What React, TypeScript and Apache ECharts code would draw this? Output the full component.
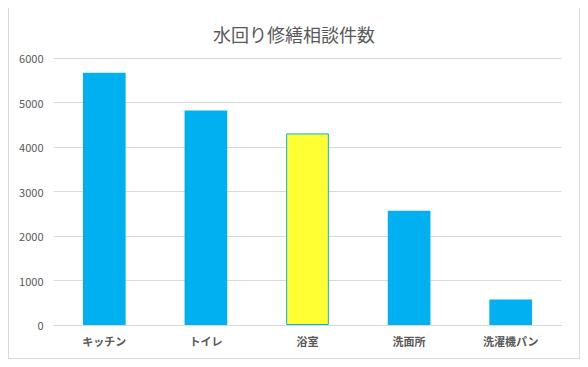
import React, { useEffect, useRef } from "react";
import * as echarts from "echarts";

const categories = ["キッチン", "トイレ", "浴室", "洗面所", "洗濯機パン"];
const values = [5670, 4820, 4305, 2565, 575];
const highlightIndex = 2;
const yMax = 6000;
const yInterval = 1000;

export default function App() {
  const ref = useRef<HTMLDivElement>(null);
  useEffect(() => {
    if (!ref.current) return;
    const chart = echarts.init(ref.current, undefined, { renderer: "svg" });
    const font = "'Noto Sans CJK JP', 'Noto Sans', sans-serif";
    chart.setOption({
      animation: false,
      title: {
        text: "水回り修繕相談件数",
        left: "center",
        top: 12,
        textStyle: { fontFamily: font, fontSize: 18, fontWeight: "normal", color: "#595959" },
      },
      grid: { left: 44.5, right: 17.5, top: 50, bottom: 33, containLabel: false },
      xAxis: {
        type: "category",
        data: categories,
        axisLine: { lineStyle: { color: "#d9d9d9" } },
        axisTick: { show: false },
        axisLabel: { fontFamily: font, fontSize: 11, color: "#595959", margin: 10, fontWeight: "bold" },
      },
      yAxis: {
        type: "value",
        min: 0,
        max: yMax,
        interval: yInterval,
        axisLine: { show: false },
        axisTick: { show: false },
        splitLine: { lineStyle: { color: "#d9d9d9" } },
        axisLabel: {
          fontFamily: font,
          fontSize: 11,
          color: "#595959",
          margin: 10,
          formatter: (v: number) => String(v),
        },
      },
      series: [
        {
          type: "bar",
          barWidth: "42%",
          data: values.map((v, i) =>
            i === highlightIndex
              ? { value: v, itemStyle: { color: "#FFFF33", borderColor: "#00B0F0", borderWidth: 1 } }
              : { value: v, itemStyle: { color: "#00B0F0" } }
          ),
        },
      ],
    });
    return () => chart.dispose();
  }, []);
  return (
    <div
      style={{
        width: 572,
        height: 352,
        border: "1px solid #d9d9d9",
        boxSizing: "border-box",
        marginTop: -1,
        background: "#fff",
      }}
    >
      <div ref={ref} style={{ width: 570, height: 350 }} />
    </div>
  );
}
